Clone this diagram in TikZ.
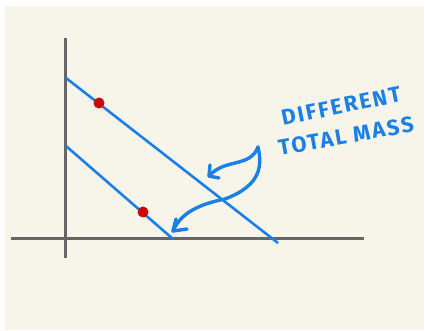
\documentclass[tikz,border=0pt]{standalone}
\usepackage{fontspec}
\setmainfont{Fira Sans}
\newfontfamily\handfont[LetterSpace=9]{Fira Sans}
\usetikzlibrary{arrows.meta}
\definecolor{paper}{HTML}{F7F5EA}
\definecolor{axisgray}{HTML}{666666}
\definecolor{inkblue}{HTML}{1A80E8}
\definecolor{dotred}{HTML}{D00000}
\tikzset{
  axisline/.style={draw=axisgray, line width=3pt},
  budget/.style={draw=inkblue, line width=2.6pt},
  dotmark/.style={circle, fill=dotred, inner sep=0pt, minimum size=11pt},
  pointer/.style={draw=inkblue, line width=3.4pt, line cap=round, line join=round},
  label/.style={text=inkblue, font=\handfont\bfseries\fontsize{22}{22}\selectfont, inner sep=0pt},
}
\begin{document}
\begin{tikzpicture}[x=1pt,y=-1pt]
\useasboundingbox (0,0) rectangle (424,331);
\fill[white] (0,0) rectangle (424,331);
\fill[paper] (5,6) rectangle (424,330);
% axes
\coordinate (yt) at (65,38);
\coordinate (yb) at (65,258);
\coordinate (xl) at (11,239);
\coordinate (xr) at (364,239);
\draw[axisline] (yt) -- (yb);
\draw[axisline] (xl) -- (xr);
% budget lines
\coordinate (u1) at (66,78);
\coordinate (u2) at (278,243);
\coordinate (l1) at (66,146);
\coordinate (l2) at (173,239);
\draw[budget] (u1) -- (u2);
\draw[budget] (l1) -- (l2);
% dots
\node[dotmark] (d1) at (99,103) {};
\node[dotmark] (d2) at (143,212) {};
% label
\node[label, rotate=11.5] (t1) at (341,106) {DIFFERENT};
\node[label, rotate=10] (t2) at (346,136) {TOTAL MASS};
% pointer arrows
\coordinate (src) at (258,147);
\coordinate (tipA) at (209,176);
\coordinate (tipB) at (173,231);
\draw[pointer] (src) .. controls (250,168) and (225,158) .. (tipA);
\draw[pointer] (tipA) -- (210,165);
\draw[pointer] (tipA) -- (219,178);
\draw[pointer] (src) .. controls (262,165) and (262,185) .. (225,199) .. controls (195,205) and (180,215) .. (tipB);
\draw[pointer] (tipB) -- (176,219);
\draw[pointer] (tipB) -- (187,229);
\end{tikzpicture}
\end{document}
